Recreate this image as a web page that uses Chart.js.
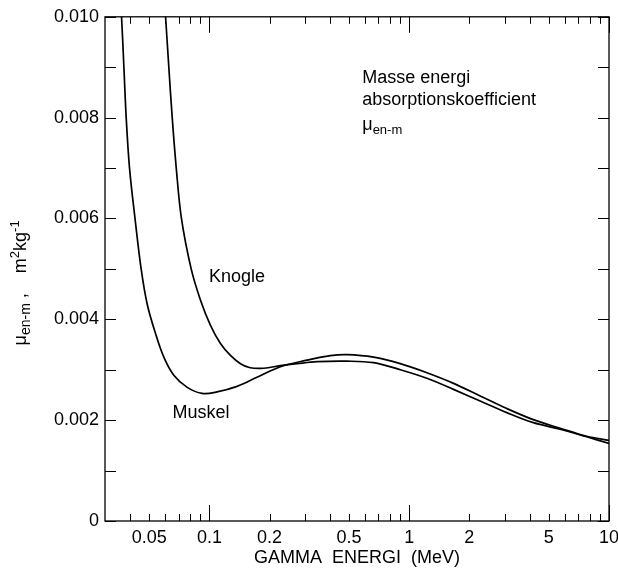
<!DOCTYPE html>
<html>
<head>
<meta charset="utf-8">
<script src="https://cdn.jsdelivr.net/npm/chart.js@4.4.0/dist/chart.umd.min.js"></script>
<style>
  html, body { margin: 0; padding: 0; background: #fff; }
  #wrap { width: 618px; height: 577px; }
</style>
</head>
<body>
<div id="wrap"><canvas id="chart" width="618" height="577"></canvas></div>
<script>
// values (energy in MeV, coefficient in m^2/kg)
const muskelEnergy = [0.035, 0.0363, 0.0373, 0.0383, 0.0398, 0.0424, 0.0455, 0.0488, 0.0537, 0.0591, 0.0663, 0.0774,
  0.0919, 0.109, 0.1375, 0.173, 0.2265, 0.308, 0.403, 0.488, 0.663, 0.902, 1.226, 1.666, 2.265, 3.08, 4.18, 5.69, 7.73, 10];
const muskelValue = [0.0110, 0.0100, 0.0090, 0.0080, 0.0070, 0.0060, 0.0050, 0.0043, 0.00372, 0.00325, 0.00289, 0.00265,
  0.00253, 0.00256, 0.00267, 0.00285, 0.00306, 0.00319, 0.00328, 0.00330, 0.00325, 0.00312, 0.00294, 0.00273, 0.00248, 0.00223, 0.00201, 0.00184, 0.00168, 0.00160];

const knogleEnergy = [0.058, 0.0603, 0.0626, 0.0651, 0.0682, 0.0724, 0.0810, 0.0902, 0.1012, 0.1135, 0.127, 0.143, 0.160,
  0.187, 0.2265, 0.2745, 0.3456, 0.488, 0.663, 0.902, 1.226, 1.666, 2.265, 3.08, 4.18, 5.69, 7.73, 10];
const knogleValue = [0.0110, 0.0100, 0.0090, 0.0080, 0.0070, 0.0060, 0.0050, 0.00438, 0.00388, 0.00352, 0.00329, 0.00312, 0.00304,
  0.00303, 0.00308, 0.00312, 0.00316, 0.00317, 0.00314, 0.00300, 0.00283, 0.00261, 0.00238, 0.00215, 0.00195, 0.00182, 0.00167, 0.00154];

// axis ticks
const xLabelTicks = [0.05, 0.1, 0.2, 0.5, 1, 2, 5, 10];
const xMajorTicks = [0.1, 1, 10];
const xMinorTicks = [0.04, 0.05, 0.06, 0.07, 0.08, 0.09, 0.2, 0.3, 0.4, 0.5, 0.6, 0.7, 0.8, 0.9, 2, 3, 4, 5, 6, 7, 8, 9];
const yLabelTicks = [0, 0.002, 0.004, 0.006, 0.008, 0.010];
const yAllTicks = [0, 0.001, 0.002, 0.003, 0.004, 0.005, 0.006, 0.007, 0.008, 0.009, 0.010];

const FONT = '"Liberation Sans", Arial, Helvetica, sans-serif';

const toPoints = (xs, ys) => xs.map((x, i) => ({ x: x, y: ys[i] }));

// frame, inward ticks and the text notes
const framePlugin = {
  id: 'frame',
  afterDraw(chart) {
    const { ctx, chartArea: a } = chart;
    const xs = chart.scales.x, ys = chart.scales.y;
    ctx.save();
    ctx.strokeStyle = '#000';
    ctx.lineWidth = 1.3;
    ctx.strokeRect(a.left, a.top, a.right - a.left, a.bottom - a.top);

    ctx.lineWidth = 1;
    ctx.beginPath();
    xMinorTicks.concat(xMajorTicks).forEach(v => {
      const px = Math.round(xs.getPixelForValue(v)) + 0.5;
      const len = xMajorTicks.includes(v) ? 16 : 7;
      ctx.moveTo(px, a.bottom); ctx.lineTo(px, a.bottom - len);
      ctx.moveTo(px, a.top); ctx.lineTo(px, a.top + len);
    });
    yAllTicks.forEach(v => {
      const py = Math.round(ys.getPixelForValue(v)) + 0.5;
      ctx.moveTo(a.left, py); ctx.lineTo(a.left + 11, py);
      ctx.moveTo(a.right, py); ctx.lineTo(a.right - 11, py);
    });
    ctx.stroke();

    ctx.fillStyle = '#000';
    ctx.textBaseline = 'alphabetic';
    ctx.textAlign = 'left';

    // curve names
    ctx.font = '18px ' + FONT;
    ctx.fillText('Knogle', xs.getPixelForValue(0.0995), ys.getPixelForValue(0.00474));
    ctx.fillText('Muskel', xs.getPixelForValue(0.0653), ys.getPixelForValue(0.00204));

    // note in the upper right
    const nx = xs.getPixelForValue(0.582);
    ctx.fillText('Masse energi', nx, ys.getPixelForValue(0.00869));
    ctx.fillText('absorptionskoefficient', nx, ys.getPixelForValue(0.00826));
    const ny = ys.getPixelForValue(0.00776);
    ctx.fillText('\u03BC', nx, ny);
    const muW = ctx.measureText('\u03BC').width;
    ctx.font = '13px ' + FONT;
    ctx.fillText('en-m', nx + muW, ny + 4);

    // y axis title, rotated, with sub and superscripts
    const parts = [
      { t: '\u03BC', s: 18, dy: 0 },
      { t: 'en-m', s: 14, dy: 4 },
      { t: ' ,    ', s: 18, dy: 0 },
      { t: 'm', s: 18, dy: 0 },
      { t: '2', s: 13, dy: -7 },
      { t: 'kg', s: 18, dy: 0 },
      { t: '-1', s: 13, dy: -7 }
    ];
    let total = 0;
    parts.forEach(p => { ctx.font = p.s + 'px ' + FONT; p.w = ctx.measureText(p.t).width; total += p.w; });
    ctx.translate(26, (a.top + a.bottom) / 2 + 14);
    ctx.rotate(-Math.PI / 2);
    let cx = -total / 2;
    parts.forEach(p => {
      ctx.font = p.s + 'px ' + FONT;
      ctx.fillText(p.t, cx, p.dy);
      cx += p.w;
    });
    ctx.restore();
  }
};

const ctx = document.getElementById('chart').getContext('2d');

const myChart = new Chart(ctx, {
  type: 'line',
  data: {
    datasets: [
      {
        label: 'Muskel',
        data: toPoints(muskelEnergy, muskelValue),
        borderColor: '#000',
        borderWidth: 1.7,
        pointRadius: 0,
        tension: 0.35,
        fill: false
      },
      {
        label: 'Knogle',
        data: toPoints(knogleEnergy, knogleValue),
        borderColor: '#000',
        borderWidth: 1.7,
        pointRadius: 0,
        tension: 0.35,
        fill: false
      }
    ]
  },
  options: {
    responsive: false,
    animation: false,
    events: [],
    layout: { padding: { left: 0, right: 9, top: 16, bottom: 0 } },
    plugins: {
      legend: { display: false },
      tooltip: { enabled: false }
    },
    scales: {
      x: {
        type: 'logarithmic',
        min: 0.03,
        max: 10,
        grid: { display: false, drawTicks: false },
        border: { display: false },
        afterBuildTicks: (scale) => {
          scale.ticks = xLabelTicks.map(v => ({ value: v }));
        },
        afterFit: (scale) => {
          scale.height = 56;
          scale.paddingRight = 0;
          scale.paddingLeft = 0;
        },
        ticks: {
          autoSkip: false,
          maxRotation: 0,
          padding: 6,
          color: '#000',
          font: { family: FONT, size: 18 },
          callback: (v) => String(v)
        },
        title: {
          display: true,
          text: 'GAMMA  ENERGI  (MeV)',
          color: '#000',
          font: { family: FONT, size: 18 },
          padding: { top: 0, bottom: 8 }
        }
      },
      y: {
        min: 0,
        max: 0.010,
        grid: { display: false, drawTicks: false },
        border: { display: false },
        afterBuildTicks: (scale) => {
          scale.ticks = yLabelTicks.map(v => ({ value: v }));
        },
        afterFit: (scale) => {
          scale.width = 105;
        },
        ticks: {
          padding: 6,
          color: '#000',
          font: { family: FONT, size: 18 },
          callback: (v) => (v === 0 ? '0' : v.toFixed(3))
        }
      }
    }
  },
  plugins: [framePlugin]
});
</script>
</body>
</html>
